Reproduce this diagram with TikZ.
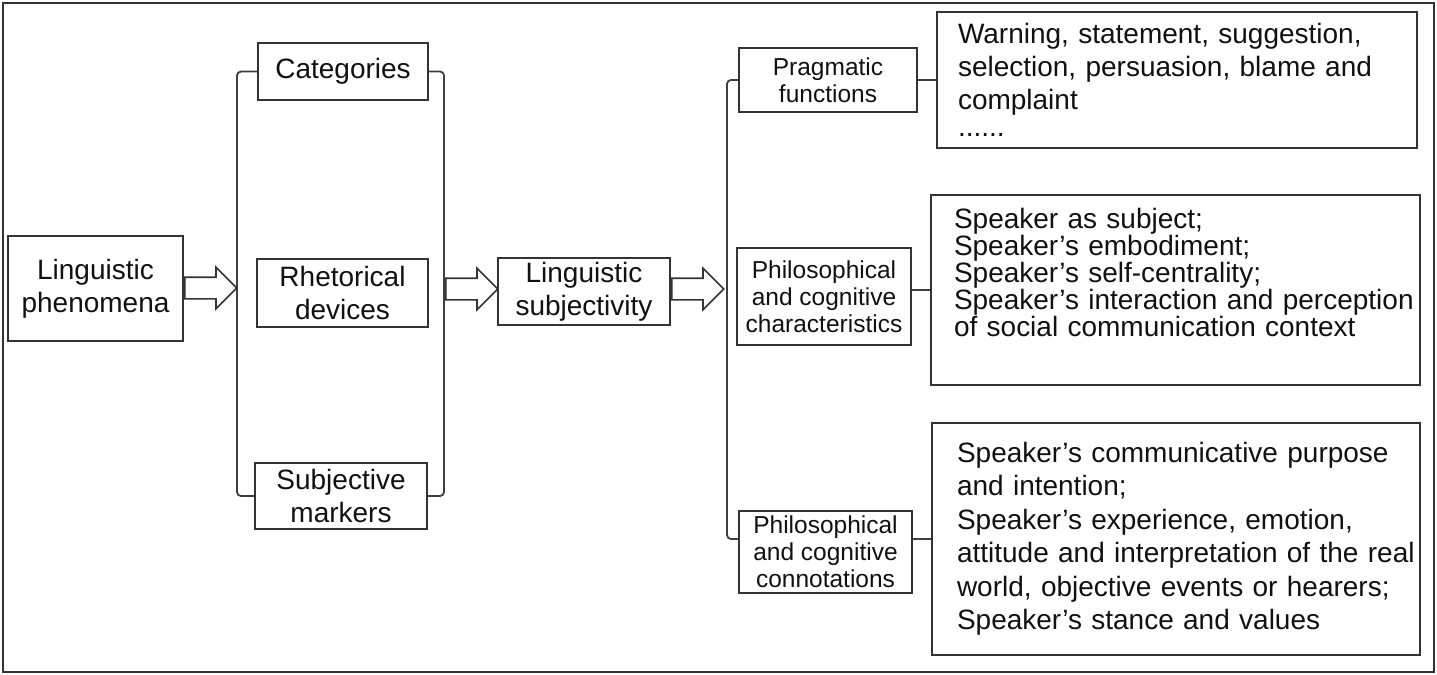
\documentclass[tikz,border=0pt]{standalone}
\usepackage{fontspec}
\setmainfont{Liberation Sans}
\usetikzlibrary{shapes.arrows}
\definecolor{ink}{HTML}{111111}
\definecolor{edge}{HTML}{333333}
\definecolor{wire}{HTML}{3F3F3F}
\tikzset{
  box/.style={draw=edge,line width=1pt,fill=white,inner sep=0pt,align=center,font=\fontsize{14pt}{16.5pt}\selectfont,text=ink},
  smallbox/.style={box,font=\fontsize{12.25pt}{13.5pt}\selectfont},
  desc/.style={draw=edge,line width=1pt,fill=white,inner xsep=2pt,inner ysep=0pt,align=left,text=ink,
    font=\fontsize{14pt}{16.6pt}\selectfont,
    execute at begin node={\leftskip=#1\rightskip=-8pt plus 1fil\lineskiplimit=-6pt}},
  fat/.style={single arrow,draw=edge,line width=0.8pt,fill=white,inner sep=5pt,single arrow head extend=5pt,minimum height=26pt,minimum width=20pt,anchor=tail},
  wire/.style={draw=wire,line width=0.9pt},
  brace/.style={wire,rounded corners=2pt}
}
\begin{document}
\begin{tikzpicture}[x=0.5pt,y=-0.5pt]
  \useasboundingbox (0,0) rectangle (1437,675);
  \draw[edge,line width=1pt] (3,3) rectangle (1434,672);

  % left part
  \node[box,minimum width=87.5pt,minimum height=52.5pt] (phen) at (95.5,288.5) {Linguistic\\phenomena};
  \node[box,minimum width=85pt,minimum height=28.5pt] (cat) at (343,71.5) {Categories};
  \node[box,minimum width=85.5pt,minimum height=34pt] (rhet) at (342.5,293) {Rhetorical\\devices};
  \node[box,minimum width=86pt,minimum height=33pt] (subj) at (341,496) {Subjective\\markers};
  \node[box,minimum width=86pt,minimum height=33.5pt] (lsub) at (584,291.5) {Linguistic\\subjectivity};

  \draw[brace] (cat.west) -- ++(-20,0) |- (subj.west);
  \draw[brace] (cat.east) -- ++(15,0) |- (subj.east);
  \coordinate (lbr) at (238,288);
  \coordinate (rbr) at (445,289);
  \coordinate (sbr) at (728,289);

  \path (phen.east |- lbr) -- node[fat,pos=0] (a1) {} (lbr);
  \path (rbr) -- node[fat,pos=0] (a2) {} (lsub.west |- rbr);
  \path (lsub.east |- sbr) -- node[fat,pos=0] (a3) {} (sbr);

  % right part
  \node[smallbox,minimum width=89pt,minimum height=32pt] (prag) at (828,80) {Pragmatic\\functions};
  \node[smallbox,minimum width=87pt,minimum height=48.5pt] (chr) at (824,296.5) {Philosophical\\and cognitive\\characteristics};
  \node[smallbox,minimum width=86.5pt,minimum height=41pt] (con) at (825.5,552) {Philosophical\\and cognitive\\connotations};

  \node[desc=8.5pt,text width=236pt,minimum width=240pt,minimum height=68pt] (wdesc) at (1177,80)
    {Warning, statement, suggestion,\\selection, persuasion, blame and\\complaint\\[-3pt]......};
  \node[desc=9.5pt,text width=240.5pt,minimum width=244.5pt,minimum height=95pt,
    font=\fontsize{14pt}{13.5pt}\selectfont] (cdesc) at (1175.5,290)
    {Speaker as subject;\\Speaker's embodiment;\\Speaker's self-centrality;\\Speaker's interaction and perception\\of social communication context\par\vspace*{18pt}};
  \node[desc=10.5pt,text width=240pt,minimum width=244pt,minimum height=116pt,
    font=\fontsize{14pt}{16.75pt}\selectfont] (ndesc) at (1176,539)
    {Speaker's communicative purpose\\and intention;\\Speaker's experience, emotion,\\attitude and interpretation of the real\\world, objective events or hearers;\\Speaker's stance and values};

  \draw[brace] (prag.west) -- ++(-11,0) |- (con.west |- ndesc.west);
  \draw[wire] (prag.east) -- (wdesc.west);
  \draw[wire] (chr.east |- cdesc.west) -- (cdesc.west);
  \draw[wire] (con.east |- ndesc.west) -- (ndesc.west);
\end{tikzpicture}
\end{document}
